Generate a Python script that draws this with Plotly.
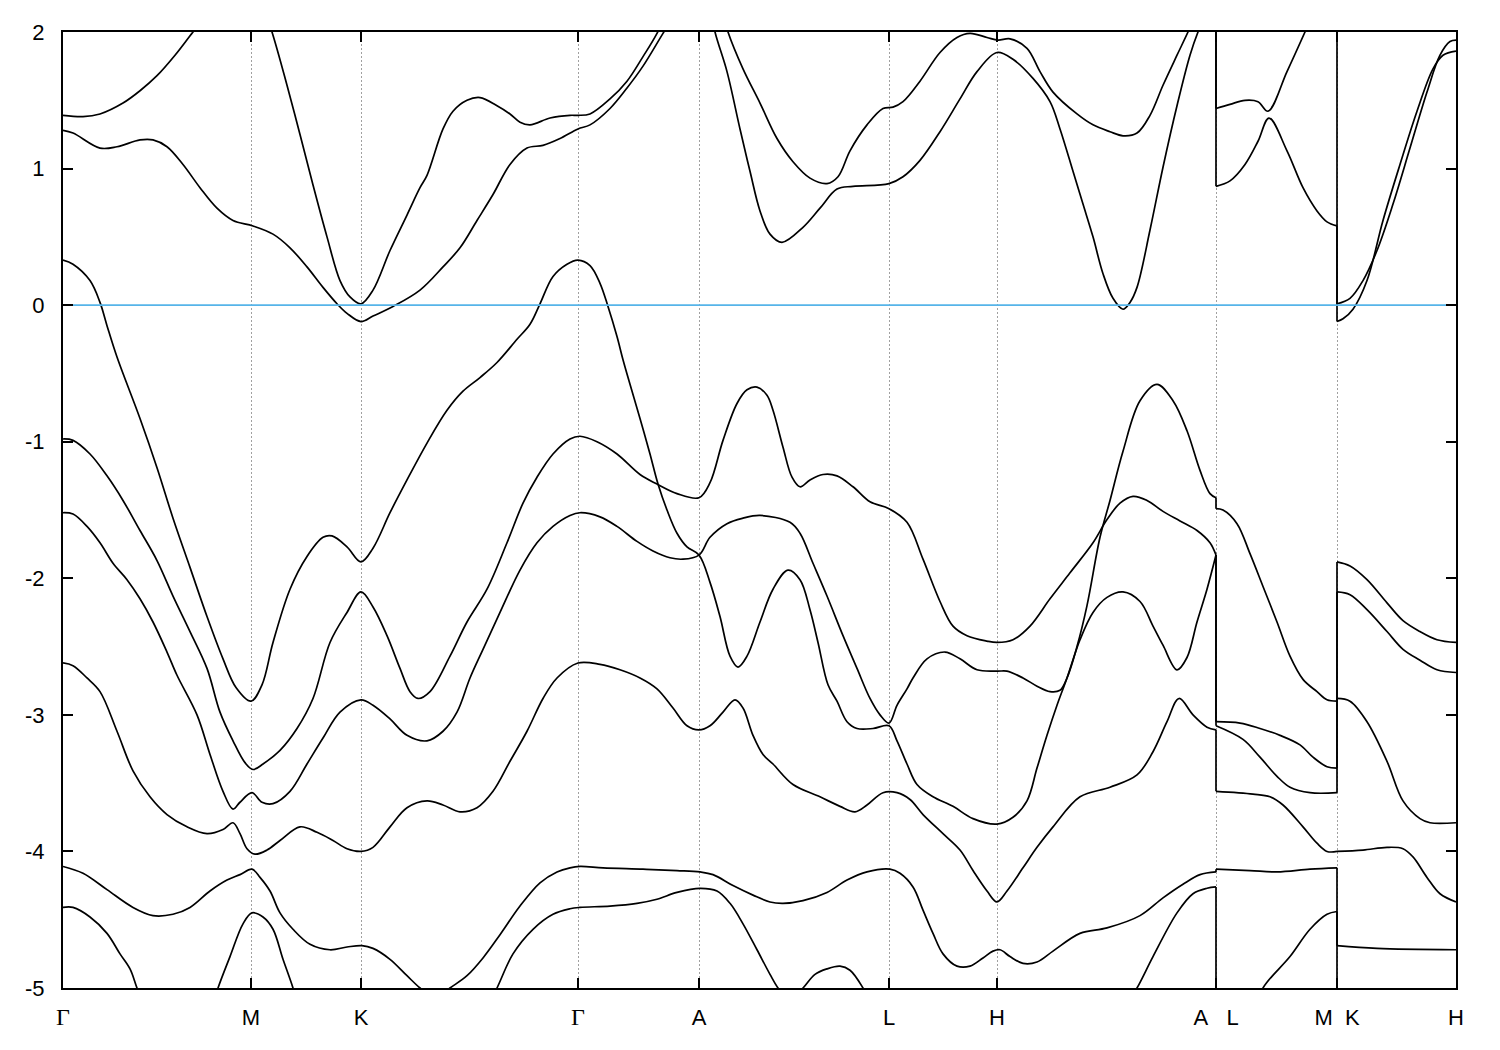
import plotly.graph_objects as go

# ---------------- high-symmetry path ----------------
HS_K = [0.00, 1.88, 2.98, 5.15, 6.36, 8.26, 9.34, 11.53, 12.74, 13.93]
HS_LABELS = ["Γ", "M", "K", "Γ", "A", "L", "H", "A\u00a0\u00a0\u00a0L", "M\u00a0\u00a0K", "H"]
K_MAX = 13.93
E_TICKS = [2, 1, 0, -1, -2, -3, -4, -5]
E_RANGE = [-5, 2]
E_FERMI = 0.0

# ---------------- segment 1: Γ-M-K-Γ-A-L-H-A (k, E in eV) ----------------
U1 = [(0.00,1.39),(0.20,1.38),(0.37,1.40),(0.60,1.48),(0.77,1.57),(0.94,1.68),(1.12,1.83),(1.30,2.00),
      (1.52,2.20),(1.77,2.35),(1.95,2.30),(2.09,2.00),(2.24,1.61),(2.37,1.25),(2.50,0.88),(2.64,0.50),
      (2.77,0.18),(2.87,0.06),(2.98,0.01),(3.10,0.11),(3.27,0.40),(3.44,0.66),(3.57,0.86),(3.64,0.95),
      (3.80,1.29),(3.90,1.42),(4.04,1.50),(4.17,1.52),(4.34,1.46),(4.47,1.40),(4.57,1.34),(4.67,1.32),
      (4.87,1.37),(5.07,1.39),(5.15,1.39),(5.27,1.40),(5.47,1.51),(5.64,1.64),(5.80,1.82),(5.94,1.99),
      (6.17,2.35),(6.36,2.50),(6.52,2.35),(6.65,2.00),(6.80,1.73),(6.97,1.48),(7.14,1.22),(7.30,1.05),
      (7.47,0.93),(7.64,0.89),(7.75,0.94),(7.87,1.13),(8.04,1.32),(8.20,1.44),(8.30,1.45),(8.40,1.49),
      (8.57,1.64),(8.77,1.85),(8.94,1.96),(9.07,1.99),(9.24,1.96),(9.35,1.94),(9.47,1.95),(9.64,1.88),
      (9.77,1.71),(9.90,1.56),(10.14,1.40),(10.30,1.32),(10.47,1.27),(10.60,1.24),(10.74,1.26),
      (10.87,1.39),(11.00,1.61),(11.14,1.83),(11.25,2.00),(11.37,2.20),(11.53,2.40)]

U2 = [(0.00,1.28),(0.10,1.26),(0.37,1.15),(0.54,1.16),(0.77,1.21),(0.90,1.21),(1.04,1.16),(1.20,1.03),
      (1.37,0.86),(1.54,0.71),(1.70,0.62),(1.90,0.58),(2.10,0.52),(2.27,0.42),(2.44,0.28),(2.60,0.13),
      (2.74,0.01),(2.84,-0.06),(2.98,-0.12),(3.10,-0.08),(3.30,-0.01),(3.57,0.11),(3.80,0.28),(3.97,0.42),
      (4.14,0.62),(4.30,0.81),(4.47,1.03),(4.64,1.15),(4.80,1.17),(4.97,1.22),(5.15,1.29),(5.27,1.32),
      (5.47,1.44),(5.64,1.59),(5.80,1.75),(6.00,1.99),(6.22,2.25),(6.36,2.30),(6.45,2.25),(6.52,2.00),
      (6.64,1.71),(6.77,1.29),(6.87,0.98),(6.97,0.69),(7.07,0.52),(7.19,0.46),(7.40,0.57),(7.57,0.71),
      (7.74,0.85),(7.90,0.87),(8.26,0.89),(8.40,0.94),(8.57,1.06),(8.77,1.27),(8.97,1.51),(9.14,1.71),
      (9.34,1.85),(9.50,1.80),(9.70,1.66),(9.87,1.49),(9.97,1.29),(10.10,0.98),(10.20,0.74),(10.30,0.50),
      (10.40,0.23),(10.50,0.05),(10.60,-0.03),(10.67,0.02),(10.74,0.13),(10.87,0.55),(11.00,1.01),
      (11.14,1.46),(11.27,1.83),(11.35,2.00),(11.53,2.30)]

C1 = [(0.00,0.33),(0.10,0.30),(0.27,0.18),(0.37,0.02),(0.44,-0.15),(0.54,-0.38),(0.77,-0.83),(0.94,-1.19),
      (1.10,-1.56),(1.27,-1.92),(1.44,-2.28),(1.60,-2.59),(1.73,-2.80),(1.88,-2.90),(1.99,-2.78),(2.10,-2.47),
      (2.27,-2.08),(2.44,-1.84),(2.60,-1.70),(2.69,-1.69),(2.84,-1.77),(2.98,-1.88),(3.10,-1.78),(3.27,-1.52),
      (3.44,-1.28),(3.64,-1.01),(3.84,-0.77),(4.00,-0.63),(4.17,-0.53),(4.34,-0.42),(4.54,-0.25),(4.67,-0.14),
      (4.77,0.01),(4.90,0.21),(5.04,0.30),(5.15,0.33),(5.27,0.29),(5.37,0.16),(5.45,-0.01),(5.54,-0.23),
      (5.60,-0.40),(5.67,-0.58),(5.77,-0.83),(5.87,-1.09),(5.95,-1.31),(6.04,-1.50),(6.14,-1.67),(6.24,-1.77),
      (6.36,-1.83),(6.47,-2.03),(6.57,-2.28),(6.67,-2.57),(6.75,-2.65),(6.84,-2.57),(6.97,-2.32),(7.10,-2.08),
      (7.25,-1.94),(7.37,-2.01),(7.47,-2.23),(7.55,-2.47),(7.65,-2.78),(7.74,-2.90),(7.84,-3.05),(7.94,-3.10),
      (8.10,-3.10),(8.26,-3.08),(8.34,-3.19),(8.44,-3.36),(8.54,-3.51),(8.70,-3.60),(8.90,-3.67),(9.10,-3.76),
      (9.34,-3.80),(9.50,-3.75),(9.64,-3.63),(9.74,-3.39),(9.84,-3.15),(9.94,-2.93),(10.04,-2.73),
      (10.17,-2.45),(10.30,-2.25),(10.44,-2.14),(10.60,-2.10),(10.77,-2.17),(10.90,-2.35),(11.00,-2.49),
      (11.14,-2.67),(11.24,-2.58),(11.34,-2.32),(11.44,-2.08),(11.53,-1.83)]

D1 = [(0.00,-0.98),(0.10,-0.99),(0.27,-1.09),(0.44,-1.25),(0.60,-1.43),(0.77,-1.65),(0.94,-1.87),(1.10,-2.13),
      (1.27,-2.39),(1.44,-2.66),(1.57,-2.98),(1.70,-3.19),(1.82,-3.35),(1.90,-3.40),(2.00,-3.36),(2.17,-3.26),
      (2.34,-3.10),(2.50,-2.88),(2.67,-2.47),(2.84,-2.25),(2.98,-2.10),(3.10,-2.21),(3.24,-2.42),(3.37,-2.66),
      (3.47,-2.83),(3.55,-2.88),(3.67,-2.83),(3.87,-2.57),(4.04,-2.32),(4.24,-2.08),(4.44,-1.74),(4.60,-1.45),
      (4.74,-1.26),(4.90,-1.09),(5.07,-0.98),(5.17,-0.96),(5.34,-1.00),(5.54,-1.09),(5.77,-1.24),(5.94,-1.31),
      (6.14,-1.38),(6.36,-1.41),(6.47,-1.30),(6.60,-0.99),(6.74,-0.72),(6.84,-0.62),(6.94,-0.60),(7.04,-0.66),
      (7.10,-0.77),(7.20,-1.04),(7.29,-1.26),(7.37,-1.33),(7.47,-1.28),(7.60,-1.24),(7.74,-1.25),(7.90,-1.33),
      (8.07,-1.44),(8.26,-1.49),(8.44,-1.59),(8.60,-1.86),(8.77,-2.17),(8.90,-2.35),(9.04,-2.42),(9.24,-2.46),
      (9.34,-2.47),(9.50,-2.45),(9.67,-2.35),(9.87,-2.15),(10.07,-1.96),(10.30,-1.74),(10.44,-1.57),
      (10.57,-1.45),(10.70,-1.40),(10.84,-1.43),(11.00,-1.51),(11.17,-1.58),(11.34,-1.65),(11.47,-1.74),
      (11.53,-1.83)]

E1 = [(0.00,-1.52),(0.10,-1.53),(0.24,-1.62),(0.37,-1.74),(0.50,-1.89),(0.64,-2.01),(0.77,-2.15),(0.90,-2.32),
      (1.04,-2.54),(1.14,-2.71),(1.34,-3.00),(1.47,-3.29),(1.60,-3.56),(1.70,-3.69),(1.77,-3.64),(1.89,-3.57),
      (1.99,-3.64),(2.10,-3.65),(2.27,-3.56),(2.44,-3.36),(2.60,-3.17),(2.77,-2.98),(2.98,-2.89),(3.10,-2.93),
      (3.27,-3.03),(3.44,-3.15),(3.64,-3.19),(3.80,-3.12),(3.94,-2.98),(4.07,-2.73),(4.20,-2.52),(4.37,-2.25),
      (4.57,-1.94),(4.74,-1.74),(4.90,-1.62),(5.07,-1.54),(5.17,-1.52),(5.37,-1.55),(5.54,-1.62),(5.74,-1.73),
      (5.90,-1.80),(6.07,-1.85),(6.20,-1.86),(6.36,-1.83),(6.47,-1.70),(6.64,-1.60),(6.80,-1.56),(6.97,-1.54),
      (7.27,-1.59),(7.37,-1.67),(7.50,-1.89),(7.64,-2.13),(7.80,-2.42),(7.94,-2.66),(8.07,-2.88),(8.17,-3.00),
      (8.26,-3.06),(8.34,-2.93),(8.44,-2.81),(8.50,-2.73),(8.64,-2.59),(8.82,-2.54),(8.97,-2.59),(9.14,-2.67),
      (9.34,-2.68),(9.44,-2.68),(9.60,-2.73),(9.74,-2.79),(9.87,-2.83),(9.97,-2.82),(10.04,-2.73),
      (10.14,-2.50),(10.24,-2.20),(10.37,-1.70),(10.47,-1.43),(10.60,-1.07),(10.77,-0.70),(10.94,-0.58),
      (11.10,-0.70),(11.24,-0.92),(11.37,-1.21),(11.47,-1.38),(11.53,-1.41)]

F1 = [(0.00,-2.62),(0.10,-2.64),(0.24,-2.73),(0.37,-2.83),(0.54,-3.12),(0.70,-3.41),(0.87,-3.60),(1.04,-3.73),
      (1.24,-3.82),(1.44,-3.87),(1.60,-3.84),(1.70,-3.79),(1.77,-3.87),(1.84,-3.98),(1.92,-4.02),(2.04,-3.99),
      (2.17,-3.92),(2.37,-3.82),(2.54,-3.86),(2.70,-3.92),(2.84,-3.98),(2.98,-4.00),(3.10,-3.97),(3.27,-3.82),
      (3.44,-3.68),(3.64,-3.63),(3.80,-3.66),(3.97,-3.71),(4.14,-3.68),(4.30,-3.56),(4.47,-3.34),(4.64,-3.12),
      (4.80,-2.88),(4.94,-2.73),(5.15,-2.62),(5.37,-2.63),(5.57,-2.67),(5.77,-2.73),(5.94,-2.81),(6.10,-2.95),
      (6.24,-3.08),(6.36,-3.11),(6.47,-3.08),(6.60,-2.98),(6.72,-2.89),(6.80,-2.95),(6.90,-3.15),(7.00,-3.29),
      (7.10,-3.36),(7.30,-3.51),(7.57,-3.60),(7.77,-3.67),(7.92,-3.71),(8.04,-3.66),(8.20,-3.57),(8.34,-3.57),
      (8.47,-3.62),(8.60,-3.73),(8.80,-3.87),(8.97,-3.99),(9.10,-4.14),(9.24,-4.29),(9.34,-4.37),(9.44,-4.29),
      (9.60,-4.12),(9.74,-3.97),(9.90,-3.82),(10.17,-3.60),(10.47,-3.53),(10.74,-3.44),(10.90,-3.27),
      (11.04,-3.05),(11.16,-2.88),(11.30,-3.00),(11.44,-3.09),(11.53,-3.11)]

G1 = [(0.00,-4.11),(0.20,-4.16),(0.44,-4.28),(0.70,-4.41),(0.90,-4.47),(1.10,-4.46),(1.27,-4.41),(1.47,-4.29),
      (1.64,-4.21),(1.77,-4.17),(1.89,-4.13),(1.97,-4.19),(2.07,-4.29),(2.17,-4.45),(2.30,-4.57),(2.47,-4.68),
      (2.67,-4.72),(2.84,-4.70),(2.99,-4.69),(3.10,-4.71),(3.27,-4.79),(3.44,-4.91),(3.57,-5.00),(3.72,-5.08),
      (3.87,-5.00),(4.04,-4.91),(4.20,-4.78),(4.37,-4.61),(4.57,-4.40),(4.77,-4.23),(4.94,-4.15),(5.07,-4.12),
      (5.17,-4.11),(5.40,-4.12),(5.80,-4.13),(6.14,-4.14),(6.37,-4.15),(6.50,-4.17),(6.70,-4.25),(6.90,-4.32),
      (7.07,-4.37),(7.20,-4.38),(7.40,-4.36),(7.64,-4.30),(7.84,-4.21),(8.04,-4.15),(8.27,-4.13),(8.37,-4.16),
      (8.50,-4.26),(8.60,-4.43),(8.70,-4.60),(8.80,-4.75),(8.94,-4.84),(9.07,-4.84),(9.20,-4.78),(9.30,-4.73),
      (9.37,-4.72),(9.47,-4.77),(9.60,-4.82),(9.74,-4.81),(9.90,-4.73),(10.17,-4.60),(10.44,-4.56),
      (10.77,-4.47),(11.00,-4.34),(11.20,-4.24),(11.37,-4.17),(11.53,-4.15)]

H1 = [(0.00,-4.41),(0.10,-4.41),(0.27,-4.48),(0.44,-4.60),(0.57,-4.75),(0.67,-4.86),(0.74,-5.00),(0.87,-5.25),
      (1.37,-5.60),(2.37,-5.80),(3.37,-5.60),(4.17,-5.25),(4.34,-5.00),(4.50,-4.75),(4.70,-4.57),(4.90,-4.46),
      (5.07,-4.42),(5.17,-4.41),(5.47,-4.40),(5.74,-4.38),(5.94,-4.35),(6.14,-4.30),(6.37,-4.27),(6.54,-4.29),
      (6.67,-4.38),(6.80,-4.53),(6.94,-4.72),(7.07,-4.90),(7.15,-5.00),(7.27,-5.10),(7.40,-5.00),(7.52,-4.90),
      (7.64,-4.86),(7.77,-4.84),(7.87,-4.87),(8.00,-5.00),(8.17,-5.25),(8.87,-5.60),(9.87,-5.60),(10.57,-5.20),
      (10.74,-5.00),(10.90,-4.77),(11.14,-4.45),(11.30,-4.31),(11.44,-4.27),(11.53,-4.26)]

M_BUMP = [(1.42,-5.30),(1.55,-5.00),(1.67,-4.77),(1.80,-4.53),(1.89,-4.45),(2.00,-4.48),(2.10,-4.57),
          (2.20,-4.79),(2.30,-5.00),(2.42,-5.30)]

# ---------------- segment 2: L-M ----------------
L1 = [(11.53,1.44),(11.67,1.47),(11.82,1.50),(11.95,1.49),(12.05,1.42),(12.24,1.71),(12.42,2.00),(12.57,2.25),(12.74,2.45)]
L2 = [(11.53,0.87),(11.67,0.91),(11.82,1.03),(11.95,1.20),(12.06,1.37),(12.24,1.13),(12.40,0.86),(12.54,0.69),(12.64,0.61),(12.74,0.58)]
L3 = [(11.53,-1.49),(11.60,-1.50),(11.74,-1.60),(11.87,-1.82),(12.00,-2.06),(12.14,-2.32),(12.27,-2.57),(12.40,-2.74),(12.54,-2.83),(12.64,-2.89),(12.74,-2.90)]
L4 = [(11.53,-3.05),(11.77,-3.06),(11.97,-3.10),(12.17,-3.15),(12.37,-3.22),(12.50,-3.31),(12.64,-3.38),(12.74,-3.39)]
L5 = [(11.53,-3.08),(11.80,-3.18),(11.97,-3.31),(12.14,-3.45),(12.27,-3.53),(12.47,-3.57),(12.74,-3.57)]
L6 = [(11.53,-3.56),(11.90,-3.58),(12.07,-3.60),(12.20,-3.66),(12.40,-3.82),(12.54,-3.94),(12.64,-4.00),(12.74,-4.00)]
L7 = [(11.53,-4.13),(11.87,-4.14),(12.14,-4.15),(12.47,-4.13),(12.74,-4.12)]
L8 = [(11.53,-5.60),(11.87,-5.25),(12.00,-5.00),(12.27,-4.77),(12.47,-4.57),(12.64,-4.46),(12.74,-4.44)]

# ---------------- segment 3: K-H ----------------
K1 = [(12.74,0.01),(12.87,0.05),(13.00,0.18),(13.14,0.40),(13.30,0.74),(13.47,1.15),(13.64,1.56),(13.77,1.83),(13.87,1.93),(13.93,1.94)]
K2 = [(12.74,-0.12),(12.80,-0.10),(12.90,-0.03),(13.04,0.18),(13.20,0.62),(13.37,1.03),(13.54,1.42),(13.70,1.73),(13.80,1.83),(13.93,1.86)]
K3 = [(12.74,-1.88),(12.87,-1.91),(13.04,-2.01),(13.24,-2.18),(13.40,-2.31),(13.57,-2.39),(13.74,-2.45),(13.93,-2.47)]
K4 = [(12.74,-2.10),(12.87,-2.12),(13.04,-2.23),(13.24,-2.39),(13.40,-2.52),(13.57,-2.60),(13.74,-2.67),(13.93,-2.69)]
K5 = [(12.74,-2.88),(12.87,-2.90),(13.04,-3.05),(13.24,-3.34),(13.40,-3.63),(13.57,-3.76),(13.67,-3.79),(13.93,-3.79)]
K6 = [(12.74,-4.00),(13.00,-3.99),(13.24,-3.97),(13.40,-3.98),(13.50,-4.04),(13.64,-4.19),(13.77,-4.31),(13.93,-4.37)]
K7 = [(12.74,-4.69),(13.14,-4.71),(13.93,-4.72)]
K8 = [(12.74,-5.60),(13.93,-5.60)]

SEG1 = [U1, U2, C1, D1, E1, F1, G1, H1]
SEG2 = [L1, L2, L3, L4, L5, L6, L7, L8]
SEG3 = [K1, K2, K3, K4, K5, K6, K7, K8]
PARTIAL = [M_BUMP]

fig = go.Figure()

band_line = dict(color="black", width=1.7, shape="spline", smoothing=1.0)
for curve in SEG1 + SEG2 + SEG3 + PARTIAL:
    fig.add_trace(go.Scatter(x=[p[0] for p in curve], y=[p[1] for p in curve],
                             mode="lines", line=band_line, hoverinfo="skip"))

# vertical jumps at the path discontinuities (bands joined in energy order)
cx, cy = [], []
for left, right in ((SEG1, SEG2), (SEG2, SEG3)):
    k_break = left[0][-1][0]
    ends = sorted((c[-1][1] for c in left), reverse=True)
    starts = sorted((c[0][1] for c in right), reverse=True)
    for a, b in zip(ends, starts):
        cx += [k_break, k_break, None]
        cy += [a, b, None]
fig.add_trace(go.Scatter(x=cx, y=cy, mode="lines", line=dict(color="black", width=1.7), hoverinfo="skip"))

# Fermi level
fig.add_trace(go.Scatter(x=[HS_K[0], HS_K[-1]], y=[E_FERMI, E_FERMI], mode="lines",
                         line=dict(color="#56b4e9", width=1.6), hoverinfo="skip"))

ticktext = [('<span style="font-family:Liberation Serif;font-size:24px">%s</span>' % t) if t == "Γ" else t
            for t in HS_LABELS]

fig.update_layout(
    width=1484, height=1034, autosize=False,
    margin=dict(l=55, r=36, t=20, b=50),
    paper_bgcolor="white", plot_bgcolor="white",
    showlegend=False,
    font=dict(family="Liberation Sans, Arial, sans-serif", size=22, color="black"),
    xaxis=dict(range=[0, K_MAX], tickvals=HS_K, ticktext=ticktext,
               showgrid=True, gridcolor="#a0a0a0", gridwidth=1, griddash="2px,2px",
               zeroline=False, showline=True, linecolor="black", linewidth=2, mirror="allticks",
               ticks="inside", ticklen=10, tickwidth=2, tickcolor="black",
               ticklabelstandoff=9, tickfont=dict(size=22)),
    yaxis=dict(range=E_RANGE, tickvals=E_TICKS, ticktext=[str(v) for v in E_TICKS],
               showgrid=False, zeroline=False, showline=True, linecolor="black", linewidth=2,
               mirror="allticks", ticks="inside", ticklen=10, tickwidth=2, tickcolor="black",
               ticklabelstandoff=12, tickfont=dict(size=22)),
)

fig.write_html("out.html")
